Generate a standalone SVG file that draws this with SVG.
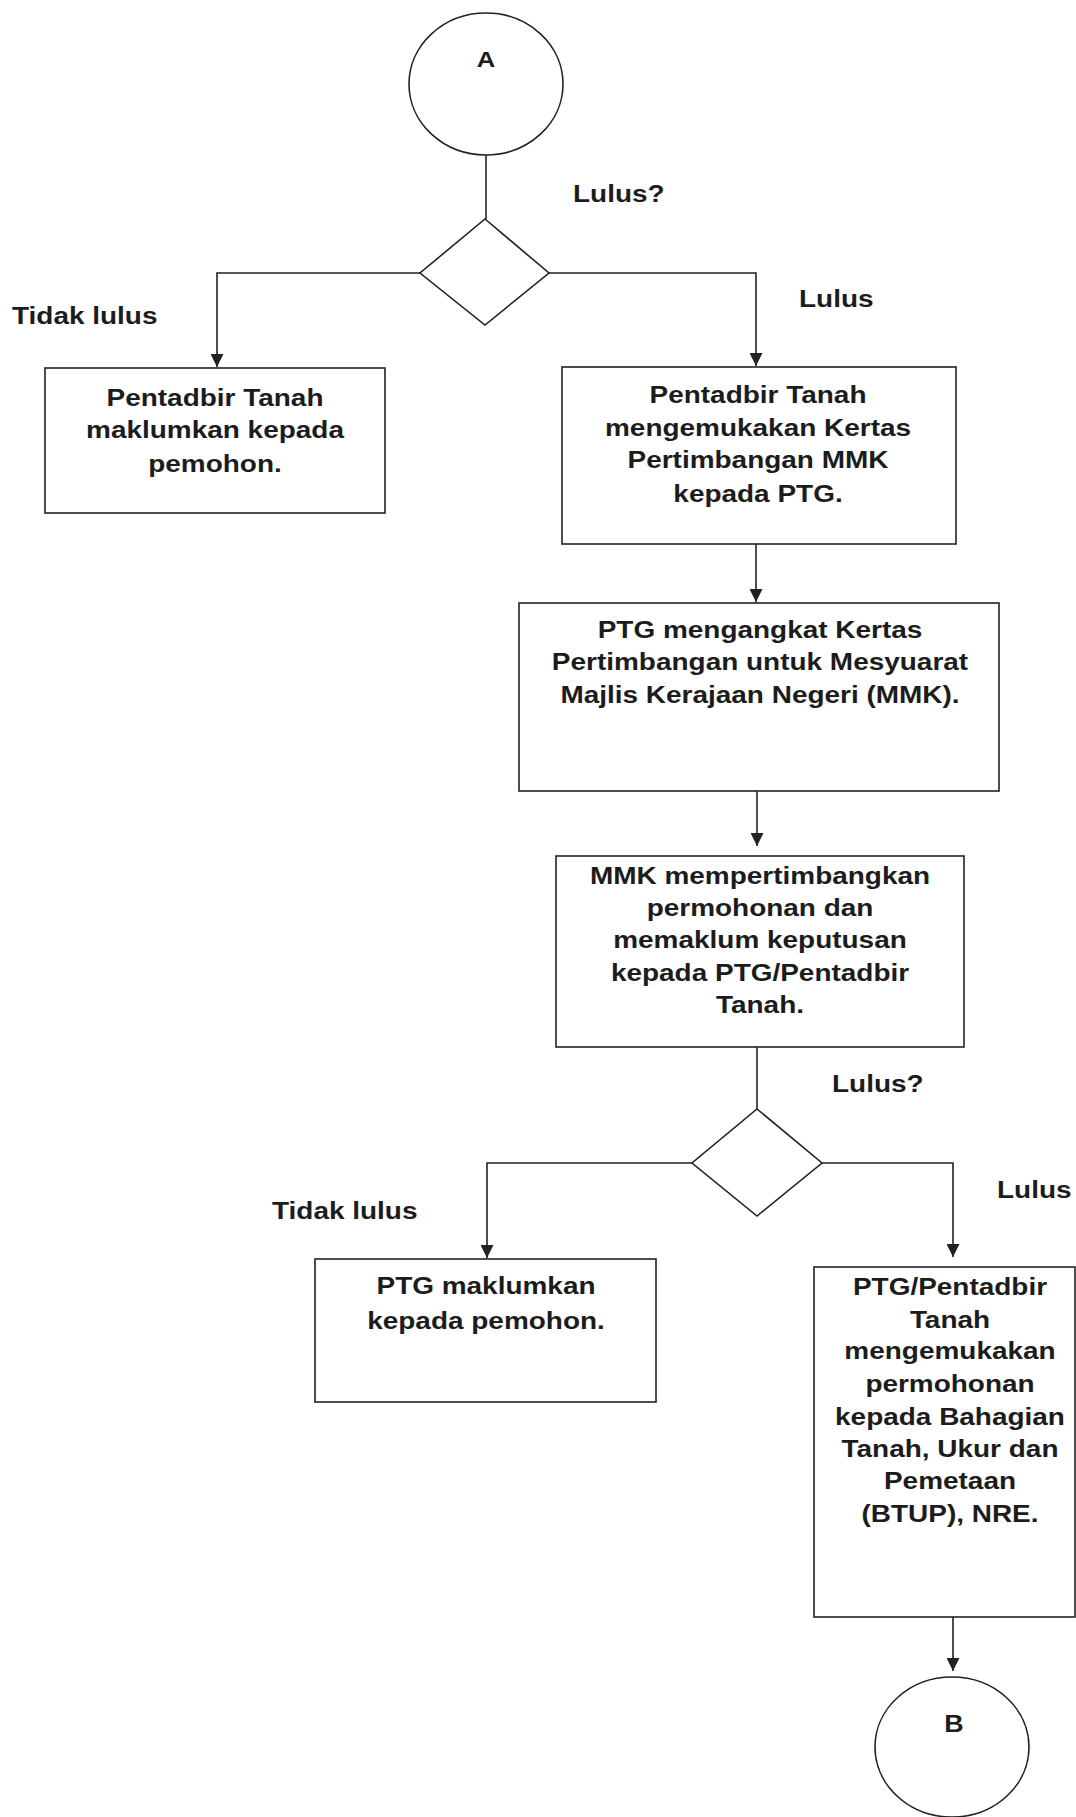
<svg xmlns="http://www.w3.org/2000/svg" width="1076" height="1817" viewBox="0 0 1076 1817">
<style>
.bg{fill:#ffffff}
.shape{fill:none;stroke:#222;stroke-width:1.6}
.con{fill:none;stroke:#222;stroke-width:1.6}
.t{font-family:"Liberation Sans",Arial,sans-serif;font-weight:bold;font-size:24px;fill:#1c1c1c}
.c{text-anchor:middle}
</style>
<defs>
<marker id="arr" markerUnits="userSpaceOnUse" markerWidth="13" markerHeight="13" refX="13" refY="6.5" orient="auto">
<path d="M0,0 L13,6.5 L0,13 z" fill="#222"/>
</marker>
</defs>
<rect class="bg" x="0" y="0" width="1076" height="1817"/>

<g id="connectors">
<path class="con" d="M486,155 V219"/>
<path class="con" d="M420,273 H217 V367" marker-end="url(#arr)"/>
<path class="con" d="M549,273 H756 V366" marker-end="url(#arr)"/>
<path class="con" d="M756,544 V602" marker-end="url(#arr)"/>
<path class="con" d="M757,791 V846" marker-end="url(#arr)"/>
<path class="con" d="M757,1047 V1109"/>
<path class="con" d="M692,1163 H487 V1258" marker-end="url(#arr)"/>
<path class="con" d="M822,1163 H953 V1257" marker-end="url(#arr)"/>
<path class="con" d="M953,1617 V1671" marker-end="url(#arr)"/>
</g>

<g id="labels">
<text class="t" transform="translate(573,0) scale(1.165,1)" x="0" y="202">Lulus?</text>
<text class="t" transform="translate(12,0) scale(1.165,1)" x="0" y="324">Tidak lulus</text>
<text class="t" transform="translate(799,0) scale(1.165,1)" x="0" y="307">Lulus</text>
<text class="t" transform="translate(832,0) scale(1.165,1)" x="0" y="1092">Lulus?</text>
<text class="t" transform="translate(272,0) scale(1.165,1)" x="0" y="1219">Tidak lulus</text>
<text class="t" transform="translate(997,0) scale(1.165,1)" x="0" y="1198">Lulus</text>
</g>

<g id="nodeA">
<ellipse class="shape" cx="486" cy="84" rx="77" ry="71"/>
<text class="t c" style="font-size:22px" transform="translate(486,0) scale(1.165,1)" x="0" y="67">A</text>
</g>

<g id="decision1">
<polygon class="shape" points="485,219 549,273 485,325 420,273"/>
</g>

<g id="box1">
<rect class="shape" x="45" y="368" width="340" height="145"/>
<g transform="translate(215,0) scale(1.165,1)">
<text class="t c" x="0" y="406">Pentadbir Tanah</text>
<text class="t c" x="0" y="438">maklumkan kepada</text>
<text class="t c" x="0" y="472">pemohon.</text>
</g>
</g>

<g id="box2">
<rect class="shape" x="562" y="367" width="394" height="177"/>
<g transform="translate(758,0) scale(1.165,1)">
<text class="t c" x="0" y="403">Pentadbir Tanah</text>
<text class="t c" x="0" y="436">mengemukakan Kertas</text>
<text class="t c" x="0" y="468">Pertimbangan MMK</text>
<text class="t c" x="0" y="502">kepada PTG.</text>
</g>
</g>

<g id="box3">
<rect class="shape" x="519" y="603" width="480" height="188"/>
<g transform="translate(760,0) scale(1.165,1)">
<text class="t c" x="0" y="638">PTG mengangkat Kertas</text>
<text class="t c" x="0" y="670">Pertimbangan untuk Mesyuarat</text>
<text class="t c" x="0" y="703">Majlis Kerajaan Negeri (MMK).</text>
</g>
</g>

<g id="box4">
<rect class="shape" x="556" y="856" width="408" height="191"/>
<g transform="translate(760,0) scale(1.165,1)">
<text class="t c" x="0" y="884">MMK mempertimbangkan</text>
<text class="t c" x="0" y="916">permohonan dan</text>
<text class="t c" x="0" y="948">memaklum keputusan</text>
<text class="t c" x="0" y="981">kepada PTG/Pentadbir</text>
<text class="t c" x="0" y="1013">Tanah.</text>
</g>
</g>

<g id="decision2">
<polygon class="shape" points="757,1109 822,1163 757,1216 692,1163"/>
</g>

<g id="box5">
<rect class="shape" x="315" y="1259" width="341" height="143"/>
<g transform="translate(486,0) scale(1.165,1)">
<text class="t c" x="0" y="1294">PTG maklumkan</text>
<text class="t c" x="0" y="1329">kepada pemohon.</text>
</g>
</g>

<g id="box6">
<rect class="shape" x="814" y="1267" width="261" height="350"/>
<g transform="translate(950,0) scale(1.165,1)">
<text class="t c" x="0" y="1295">PTG/Pentadbir</text>
<text class="t c" x="0" y="1328">Tanah</text>
<text class="t c" x="0" y="1359">mengemukakan</text>
<text class="t c" x="0" y="1392">permohonan</text>
<text class="t c" x="0" y="1425">kepada Bahagian</text>
<text class="t c" x="0" y="1457">Tanah, Ukur dan</text>
<text class="t c" x="0" y="1489">Pemetaan</text>
<text class="t c" x="0" y="1522">(BTUP), NRE.</text>
</g>
</g>

<g id="nodeB">
<ellipse class="shape" cx="952" cy="1747" rx="77" ry="70"/>
<text class="t c" style="font-size:23px" transform="translate(954,0) scale(1.165,1)" x="0" y="1732">B</text>
</g>
</svg>
